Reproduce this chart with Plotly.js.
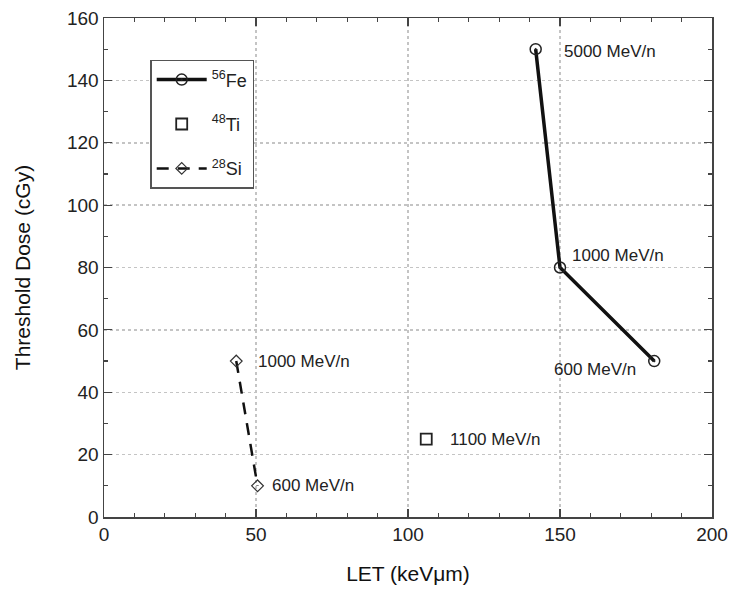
<!DOCTYPE html>
<html><head><meta charset="utf-8">
<script src="https://cdn.plot.ly/plotly-3.0.1.min.js"></script>
<style>html,body{margin:0;padding:0;background:#fff}</style>
</head><body><div id="chart" style="width:733px;height:589px"></div>
<script>
const feLET = [142, 150, 181];
const feDose = [150, 80, 50];
const feLabels = ["5000 MeV/n", "1000 MeV/n", "600 MeV/n"];
const tiLET = [106];
const tiDose = [25];
const tiLabels = ["1100 MeV/n"];
const siLET = [43.5, 50.5];
const siDose = [50, 10];
const siLabels = ["1000 MeV/n", "600 MeV/n"];

const font = "Liberation Sans, Arial, Helvetica, sans-serif";
const traces = [
  {x: feLET, y: feDose, mode: 'lines+markers', name: '<sup>56</sup>Fe', legendgroup: 'a',
   line: {color: '#111', width: 3.5},
   marker: {symbol: 'circle-open-dot', size: 11, color: '#222', line: {width: 1.5}}},
  {x: tiLET, y: tiDose, mode: 'markers', name: '<sup>48</sup>Ti', legendgroup: 'b',
   marker: {symbol: 'square-open', size: 11, color: '#222', line: {width: 1.8}}},
  {x: siLET, y: siDose, mode: 'lines+markers', name: '<sup>28</sup>Si', legendgroup: 'c',
   line: {color: '#111', width: 2.5, dash: '12px,9px'},
   marker: {symbol: 'diamond-open', size: 9, color: '#333', line: {width: 1.2}}}
];

const ann = [];
const annFont = {family: font, size: 17, color: '#222'};
ann.push({x: feLET[0], y: feDose[0], text: feLabels[0], xanchor: 'left', xshift: 26, yshift: -2});
ann.push({x: feLET[1], y: feDose[1], text: feLabels[1], xanchor: 'left', xshift: 10, yshift: 12});
ann.push({x: feLET[2], y: feDose[2], text: feLabels[2], xanchor: 'right', xshift: -16, yshift: -8});
ann.push({x: tiLET[0], y: tiDose[0], text: tiLabels[0], xanchor: 'left', xshift: 22, yshift: 0});
ann.push({x: siLET[0], y: siDose[0], text: siLabels[0], xanchor: 'left', xshift: 20, yshift: 0});
ann.push({x: siLET[1], y: siDose[1], text: siLabels[1], xanchor: 'left', xshift: 12, yshift: 0});
ann.forEach(a => { a.showarrow = false; a.font = annFont; a.yanchor = 'middle'; });

const axCommon = {
  showline: true, linecolor: '#444', linewidth: 1.5, mirror: 'allticks',
  ticks: 'inside', ticklen: 8, tickwidth: 1.2, tickcolor: '#444',
  showgrid: true, gridcolor: '#c4c4c4', griddash: 'dot', gridwidth: 1.5,
  zeroline: false, tickfont: {family: font, size: 19, color: '#222'},
  minor: {dtick: 10, ticks: 'inside', ticklen: 4, tickcolor: '#444', showgrid: false}
};

const layout = {
  width: 733, height: 589,
  margin: {l: 104, r: 21, t: 18, b: 72},
  paper_bgcolor: '#fff', plot_bgcolor: '#fff',
  showlegend: true,
  legend: {x: 0.076, y: 0.916, xanchor: 'left', yanchor: 'top',
           bgcolor: '#fff', bordercolor: '#555', borderwidth: 1.5,
           font: {family: font, size: 18, color: '#222'}, itemwidth: 50,
           tracegroupgap: 18},
  xaxis: Object.assign({}, axCommon, {range: [0, 200], dtick: 50,
    title: {text: 'LET (keVμm)', font: {family: font, size: 21, color: '#111'}, standoff: 22}}),
  yaxis: Object.assign({}, axCommon, {range: [0, 160], dtick: 20,
    title: {text: 'Threshold Dose (cGy)', font: {family: font, size: 21, color: '#111'}, standoff: 30}}),
  annotations: ann
};

Plotly.newPlot('chart', traces, layout, {displayModeBar: false, staticPlot: true});
</script></body></html>
